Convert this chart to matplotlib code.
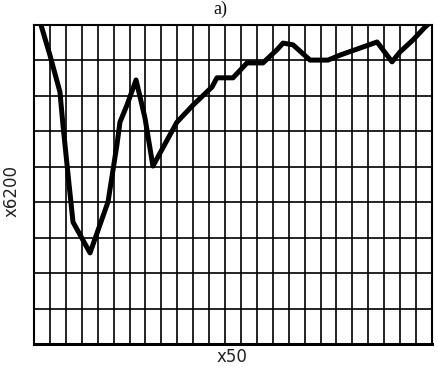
import matplotlib
matplotlib.use('Agg')
import matplotlib.pyplot as plt
import numpy as np

# curve (grid units: 25 columns x 9 rows)
x_vals = [0.30, 0.44, 1.00, 1.63, 1.82, 2.14, 2.45, 3.52, 4.65, 5.21, 5.40, 5.84,
          6.41, 6.97, 7.47, 8.54, 8.98, 9.99, 11.18, 11.49, 12.50, 13.38, 14.38,
          15.26, 15.64, 16.27, 17.34, 18.47, 19.22, 20.48, 21.55, 22.49, 22.99,
          23.81, 24.56, 25.06]
y_vals = [9.30, 9.00, 8.15, 7.11, 6.18, 4.77, 3.44, 2.57, 4.01, 5.62, 6.26, 6.74,
          7.45, 6.38, 5.02, 5.90, 6.26, 6.74, 7.25, 7.51, 7.51, 7.93, 7.93,
          8.30, 8.49, 8.44, 8.01, 8.01, 8.15, 8.35, 8.52, 7.96, 8.24,
          8.58, 8.94, 9.14]

n_cols = 25
n_rows = 9

fig = plt.figure(figsize=(4.39, 3.73), dpi=100)
ax = fig.add_axes([34 / 439, 29 / 373, 398 / 439, 319 / 373])

ax.set_xlim(0, n_cols)
ax.set_ylim(0, n_rows)
ax.set_xticks(np.arange(0, n_cols + 1))
ax.set_yticks(np.arange(0, n_rows + 1))
ax.tick_params(length=0, labelbottom=False, labelleft=False)
ax.grid(True, color='black', linewidth=1.2)
ax.set_axisbelow(True)
for s in ax.spines.values():
    s.set_color('black')
    s.set_linewidth(1.5)
ax.spines['bottom'].set_linewidth(2.2)

ax.plot(x_vals, y_vals, color='black', linewidth=3.6, solid_joinstyle='round',
        solid_capstyle='round', clip_on=True)

fig.text(220 / 439, 1 - 9 / 373, 'a)', family='Liberation Serif', fontsize=13,
         ha='center', va='center', color='#111')
fig.text(12 / 439, 1 - 191 / 373, 'x6200', fontsize=12, rotation=90,
         ha='center', va='center', color='#222')
fig.text(232 / 439, 1 - 357 / 373, 'x50', fontsize=12,
         ha='center', va='center', color='#222')

fig.savefig('out.png', dpi=100, facecolor='white')
